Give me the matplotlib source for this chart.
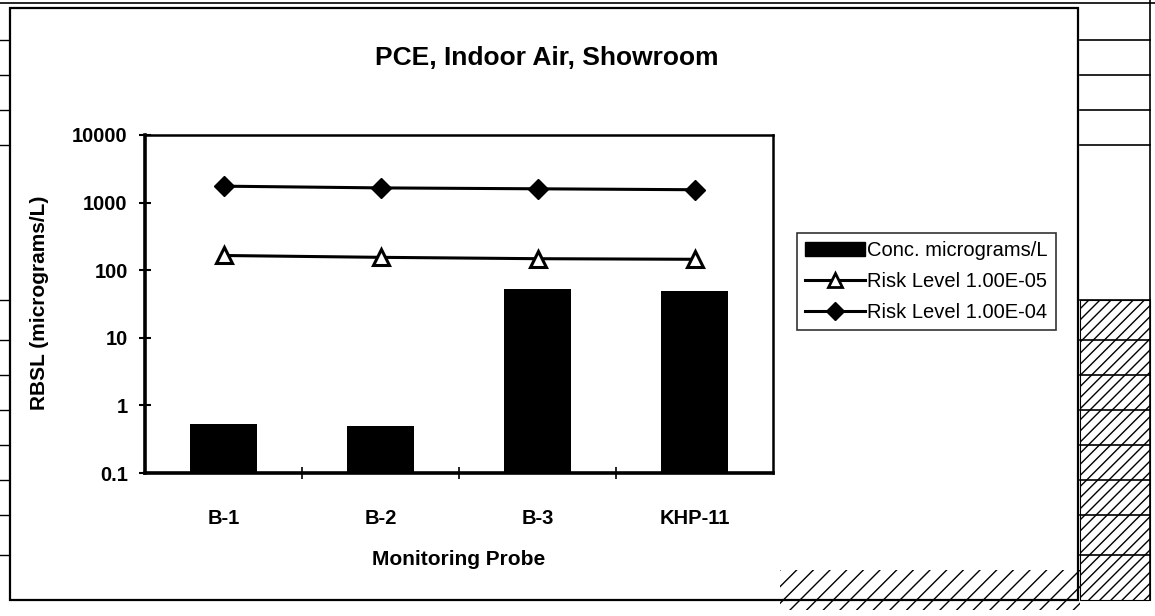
import numpy as np
import matplotlib
matplotlib.use('Agg')
import matplotlib.pyplot as plt
import matplotlib.patches as mpatches
from matplotlib.lines import Line2D

plt.rcParams['font.family'] = ['Liberation Sans', 'DejaVu Sans']

# data
probes = ['B-1', 'B-2', 'B-3', 'KHP-11']
conc = [0.53, 0.50, 52, 50]
risk_e05 = [165, 155, 148, 145]
risk_e04 = [1750, 1650, 1600, 1550]
y_ticks = [0.1, 1, 10, 100, 1000, 10000]
y_labels = ['0.1', '1', '10', '100', '1000', '10000']

W, H = 1155, 616
fig = plt.figure(figsize=(W / 100, H / 100), dpi=100)

# chart area frame + bits of the scanned table around it
frame = fig.add_axes([0, 0, 1, 1], zorder=-1)
frame.set_xlim(0, W)
frame.set_ylim(H, 0)
frame.axis('off')
frame.add_patch(mpatches.Rectangle((10, 8), 1068, 592, fill=False, lw=1.6, ec='black'))
frame.plot([0, W], [3, 3], color='black', lw=1.2)
for yy in [40, 75, 110, 145, 300, 340, 375, 410, 445, 480, 515, 555]:
    frame.plot([1080, 1150], [yy, yy], color='black', lw=1.2)
    frame.plot([0, 8], [yy, yy], color='black', lw=1.0)
frame.plot([1150, 1150], [0, 600], color='black', lw=1.2)
frame.add_patch(mpatches.Rectangle((1080, 300), 70, 300, fill=False, hatch='///', ec='black', lw=0.8))
frame.add_patch(mpatches.Rectangle((780, 570), 300, 40, fill=False, hatch='//', ec='black', lw=0.0))

ax = fig.add_axes([145 / W, 1 - 473 / H, (773 - 145) / W, (473 - 135) / H])
x = np.arange(len(probes))
ax.set_yscale('log')
ax.bar(x, conc, width=0.43, color='black', label='Conc. micrograms/L', zorder=2)
ax.plot(x, risk_e05, color='black', lw=2.2, marker='^', markersize=11,
        markerfacecolor='white', markeredgecolor='black', markeredgewidth=2.2,
        label='Risk Level 1.00E-05', zorder=3)
ax.plot(x, risk_e04, color='black', lw=2.2, marker='D', markersize=10,
        markerfacecolor='black', label='Risk Level 1.00E-04', zorder=3)

ax.set_xlim(-0.5, len(probes) - 0.5)
ax.set_ylim(0.1, 10000)
ax.set_yticks(y_ticks)
ax.set_yticklabels(y_labels)
ax.yaxis.set_minor_locator(matplotlib.ticker.NullLocator())
ax.set_xticks(x)
ax.set_xticklabels(probes)
ax.set_xticks(np.arange(0.5, len(probes) - 0.5, 1), minor=True)
ax.tick_params(axis='x', which='major', length=0, pad=26, labelsize=14.5)
ax.tick_params(axis='x', which='minor', direction='inout', length=8, width=1.2)
ax.tick_params(axis='y', which='major', direction='inout', length=9, width=1.5,
               labelsize=14.5, pad=8)
for lab in ax.get_xticklabels() + ax.get_yticklabels():
    lab.set_fontweight('bold')
for side in ['left', 'bottom']:
    ax.spines[side].set_linewidth(2.6)
for side in ['top', 'right']:
    ax.spines[side].set_linewidth(1.8)

ax.set_xlabel('Monitoring Probe', fontsize=15, fontweight='bold', labelpad=16)
fig.text(40 / W, 1 - 303 / H, 'RBSL (micrograms/L)', rotation=90, fontsize=15,
         fontweight='bold', ha='center', va='center')
fig.text(547 / W, 1 - 58 / H, 'PCE, Indoor Air, Showroom', fontsize=19,
         fontweight='bold', ha='center', va='center')

handles = [mpatches.Patch(color='black'),
           Line2D([], [], color='black', lw=2.2, marker='^', markersize=10,
                  markerfacecolor='white', markeredgewidth=2),
           Line2D([], [], color='black', lw=2.2, marker='D', markersize=9)]
labels = ['Conc. micrograms/L', 'Risk Level 1.00E-05', 'Risk Level 1.00E-04']
leg = fig.legend(handles, labels, loc='upper left', bbox_to_anchor=(797 / W, 1 - 233 / H),
                 fontsize=14.5, frameon=True, fancybox=False, handlelength=3.0,
                 handletextpad=0.1, borderpad=0.4, labelspacing=0.6, borderaxespad=0)
leg.get_frame().set_edgecolor('black')
leg.get_frame().set_linewidth(1.2)

fig.savefig('out.png', dpi=100)
